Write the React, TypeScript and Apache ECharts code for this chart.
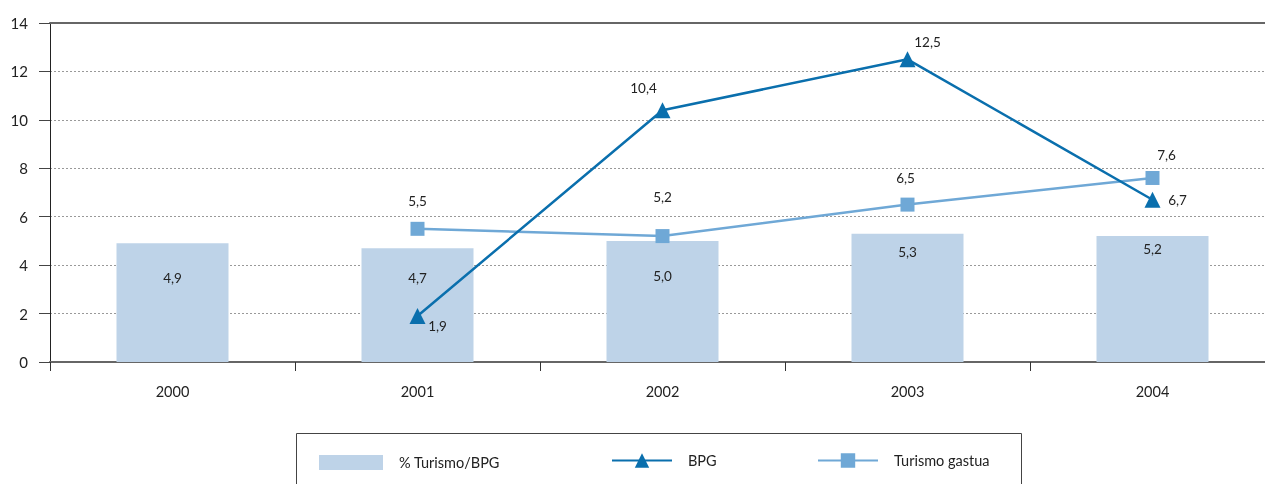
import React, { useEffect, useRef } from "react";
import * as echarts from "echarts";

const years = ["2000", "2001", "2002", "2003", "2004"];
const turismoPct = [4.9, 4.7, 5.0, 5.3, 5.2];
const bpg: (number | null)[] = [null, 1.9, 10.4, 12.5, 6.7];
const turismoGastua: (number | null)[] = [null, 5.5, 5.2, 6.5, 7.6];
const yTicks = { min: 0, max: 14, interval: 2 };
const legendNames = ["% Turismo/BPG", "BPG", "Turismo gastua"];

// label placement styles (pixels), not data
const barLabelDist = [28, 23, 28, 11, 6];
const bpgLabelOff = [null, [20, 10], [-19, -22], [20, -17], [25, 0]];
const tgLabelOff = [null, [0, -28], [0, -39], [-2, -27], [14, -23]];

const fmt = (v: number) => v.toFixed(1).replace(".", ",");
const FONT = "Lato, 'DejaVu Sans', sans-serif";

export default function App() {
  const ref = useRef<HTMLDivElement>(null);
  useEffect(() => {
    if (!ref.current) return;
    const chart = echarts.init(ref.current, null, { renderer: "svg" });
    const lineData = (vals: (number | null)[], offs: any[]) =>
      vals.map((v, i) =>
        v == null
          ? "-"
          : {
              value: v,
              label: {
                show: true,
                position: "inside",
                offset: offs[i],
                formatter: fmt(v),
              },
            }
      );
    const legendText = {
      fontSize: 14.5,
      color: "#222",
      fontFamily: FONT,
      padding: [0, 0, 0, 11],
    };
    chart.setOption({
      animation: false,
      textStyle: { fontFamily: FONT },
      grid: { left: 50, top: 23, width: 1225, height: 339 },
      legend: [
        {
          left: 319,
          top: 455,
          padding: 0,
          itemWidth: 64,
          itemHeight: 15,
          icon: "rect",
          textStyle: legendText,
          data: [legendNames[0]],
        },
        {
          left: 611,
          top: 453,
          padding: 0,
          itemWidth: 60,
          itemHeight: 18,
          textStyle: legendText,
          data: [legendNames[1]],
        },
        {
          left: 817,
          top: 453,
          padding: 0,
          itemWidth: 60,
          itemHeight: 18,
          textStyle: legendText,
          data: [legendNames[2]],
        },
      ],
      graphic: [
        {
          type: "rect",
          shape: { x: 296.5, y: 433.5, width: 725, height: 60 },
          style: { fill: "none", stroke: "#444", lineWidth: 1 },
          silent: true,
        },
      ],
      xAxis: [
        {
          type: "category",
          data: years,
          axisLine: { lineStyle: { color: "#666", width: 2 } },
          axisTick: { show: true, length: 9, lineStyle: { color: "#333", width: 1 } },
          axisLabel: { fontSize: 14.5, color: "#222", margin: 22, fontFamily: FONT },
          splitLine: { show: false },
        },
        {
          type: "category",
          data: years,
          position: "top",
          axisLine: { show: true, lineStyle: { color: "#666", width: 2 } },
          axisTick: { show: false },
          axisLabel: { show: false },
        },
      ],
      yAxis: {
        type: "value",
        min: yTicks.min,
        max: yTicks.max,
        interval: yTicks.interval,
        axisLine: { show: true, lineStyle: { color: "#222", width: 1 } },
        axisTick: { show: true, length: 11, lineStyle: { color: "#444" } },
        axisLabel: { fontSize: 15, color: "#222", margin: 22, fontFamily: FONT },
        splitLine: { show: true, lineStyle: { color: "#999", type: [2, 2], width: 1 } },
      },
      series: [
        {
          name: legendNames[0],
          type: "bar",
          barWidth: 112,
          itemStyle: { color: "#bed3e8" },
          z: 1,
          data: turismoPct.map((v, i) => ({
            value: v,
            label: {
              show: true,
              position: "insideTop",
              distance: barLabelDist[i],
              formatter: fmt(v),
              fontSize: 13.5,
              color: "#222",
            },
          })),
        },
        {
          name: legendNames[2],
          type: "line",
          symbol: "rect",
          symbolSize: 14,
          z: 3,
          lineStyle: { color: "#6fa8d6", width: 2.5 },
          itemStyle: { color: "#6fa8d6" },
          label: { fontSize: 13.5, color: "#222" },
          data: lineData(turismoGastua, tgLabelOff),
        },
        {
          name: legendNames[1],
          type: "line",
          symbol: "triangle",
          symbolSize: 16,
          z: 4,
          lineStyle: { color: "#0a6fad", width: 2.5 },
          itemStyle: { color: "#0a6fad" },
          label: { fontSize: 13.5, color: "#222" },
          data: lineData(bpg, bpgLabelOff),
        },
      ],
    });
    return () => chart.dispose();
  }, []);
  return (
    <div
      ref={ref}
      style={{ position: "fixed", left: 0, top: 0, width: 1280, height: 484 }}
    />
  );
}
